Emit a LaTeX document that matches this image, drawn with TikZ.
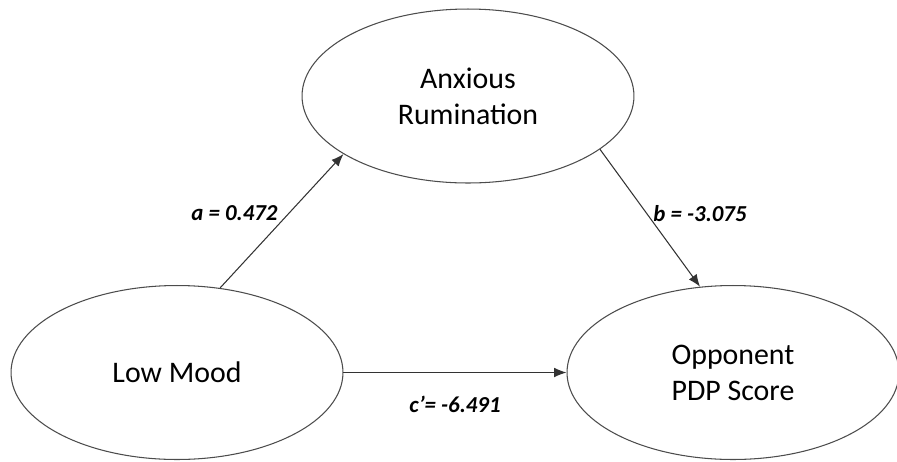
\documentclass[tikz,border=0pt]{standalone}
\usepackage{fontspec}
\setmainfont{Carlito}
\usetikzlibrary{shapes.geometric, arrows.meta, positioning}
\tikzstyle{latent} = [ellipse, minimum width=6.64cm, minimum height=3.48cm, inner sep=0pt, align=center, draw=black!70, line width=0.6pt, font=\fontsize{17}{20.5}\selectfont]
\tikzstyle{coef} = [font=\fontsize{13}{15}\selectfont\bfseries\itshape]
\tikzstyle{arrow} = [line width=0.6pt, draw=black!80, -{Latex[length=7pt,width=5.5pt]}]
\begin{document}
\begin{tikzpicture}[x=0.02cm, y=-0.02cm]
\useasboundingbox (0,0) rectangle (897,461);

\node (mood) [latent] at (177,372.5) {Low Mood};
\node (rum) [latent] at (468,96) {Anxious\\Rumination};
\node (opp) [latent] at (733,372.5) {Opponent\\PDP Score};

\draw [arrow] (mood.63) -- node[coef, left=3pt, pos=0.56] {a = 0.472} (rum.205);
\draw [arrow] (rum.338) -- node[coef, right, pos=0.47] {b = -3.075} (opp.111);
\draw [arrow] (mood) -- node[coef, below=10pt] {c’= -6.491} (opp);
\end{tikzpicture}
\end{document}
